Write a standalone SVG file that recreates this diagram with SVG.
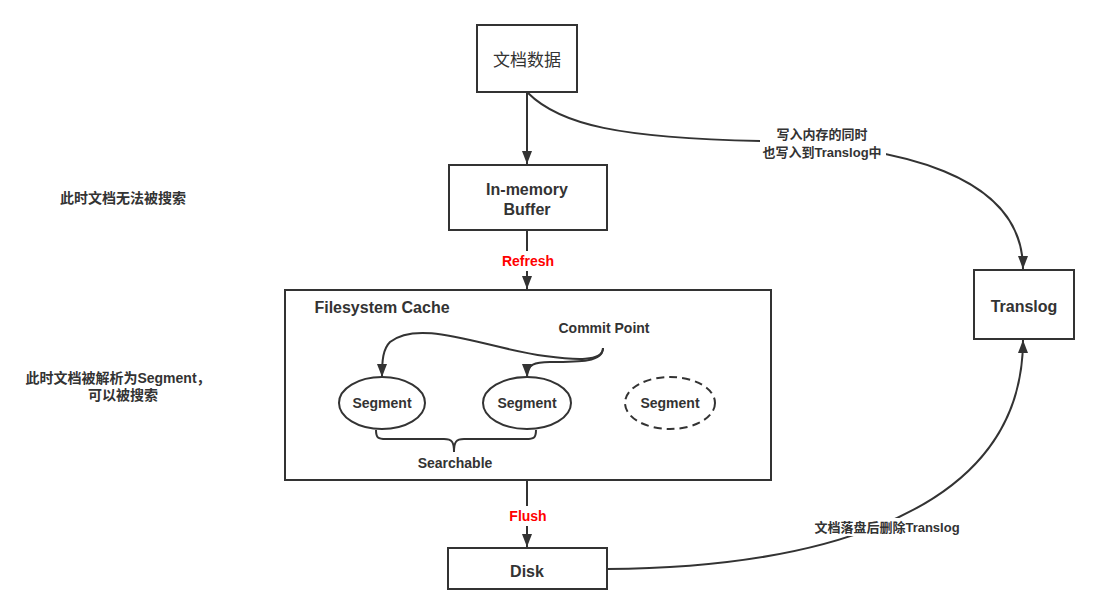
<svg xmlns="http://www.w3.org/2000/svg" width="1098" height="615" viewBox="0 0 1098 615">
<style>
.box{fill:#fff;stroke:#333;stroke-width:2}
.ell{fill:#fff;stroke:#333;stroke-width:2}
.dash{stroke-dasharray:8 5}
.edge{fill:none;stroke:#333;stroke-width:2}
text{font-family:"Liberation Sans","Noto Sans CJK SC",sans-serif;fill:#333;text-anchor:middle;dominant-baseline:central}
.b{font-weight:bold}
.lg{font-size:16px}
.md{font-size:14px}
.sm{font-size:13px}
.red{fill:#ff0000}
.bg{fill:#fff;stroke:none}
</style>
<defs>
<marker id="arr" viewBox="0 0 13 10" refX="13" refY="5" markerWidth="13" markerHeight="10" markerUnits="userSpaceOnUse" orient="auto">
<path d="M0,0 L13,5 L0,10 Z" fill="#333"/>
</marker>
</defs>
<rect width="1098" height="615" fill="#fff"/>
<g id="connectors">
<path class="edge" d="M527 93 L527 164" marker-end="url(#arr)"/>
<path class="edge" d="M527 231 L527 289" marker-end="url(#arr)"/>
<path class="edge" d="M527 481 L527 547" marker-end="url(#arr)"/>
<path class="edge" d="M528 93 C560 125 620 138 760 141 C900 145 1023 175 1023 269" marker-end="url(#arr)"/>
<path class="edge" d="M607 569 C780 568 1023 530 1023 340" marker-end="url(#arr)"/>
<path class="edge" d="M603 348 C603 362 575 360 545 356 C485 348 420 318 390 342 C383 349 382 360 382 377" marker-end="url(#arr)"/>
<path class="edge" d="M603 348 C603 362 580 362 550 362 C535 362 527 364 527 377" marker-end="url(#arr)"/>
<path class="edge" d="M376 430 C376 438 378 439 386 439 L444 439 C452 439 454 442 454 452 C454 442 456 439 464 439 L526 439 C534 439 536 438 536 430"/>
<rect class="bg" x="490" y="251" width="74" height="20"/>
<text class="b md red" x="528" y="261">Refresh</text>
<rect class="bg" x="503" y="506" width="50" height="20"/>
<text class="b md red" x="528" y="516">Flush</text>
<rect class="bg" x="760" y="124" width="126" height="38"/>
<text class="b sm" x="822" y="134">写入内存的同时</text>
<text class="b sm" x="822" y="152">也写入到Translog中</text>
<rect class="bg" x="812" y="518" width="152" height="18"/>
<text class="b sm" x="887" y="527">文档落盘后删除Translog</text>
<text class="b md" x="455" y="463">Searchable</text>
<text class="b md" x="604" y="328">Commit Point</text>
</g>
<g id="doc"><rect class="box" x="477" y="25" width="100" height="67"/><text x="527" y="60" font-size="17">文档数据</text></g>
<g id="buffer"><rect class="box" x="449" y="165" width="158" height="65"/><text class="b lg" x="527" y="189">In-memory</text><text class="b lg" x="527" y="209">Buffer</text></g>
<g id="fscache"><rect class="box" x="285" y="290" width="486" height="190" fill-opacity="0"/><text class="b lg" x="382" y="307">Filesystem Cache</text></g>
<g id="seg1"><ellipse class="ell" cx="382" cy="403" rx="43" ry="26"/><text class="b md" x="382" y="403">Segment</text></g>
<g id="seg2"><ellipse class="ell" cx="527" cy="403" rx="44" ry="26"/><text class="b md" x="527" y="403">Segment</text></g>
<g id="seg3"><ellipse class="ell dash" cx="670" cy="403" rx="45" ry="26"/><text class="b md" x="670" y="403">Segment</text></g>
<g id="disk"><rect class="box" x="448" y="548" width="159" height="41"/><text class="b lg" x="527" y="571">Disk</text></g>
<g id="translog"><rect class="box" x="974" y="270" width="100" height="69"/><text class="b lg" x="1024" y="306">Translog</text></g>
<g id="notes">
<text class="b md" x="123" y="198">此时文档无法被搜索</text>
<text class="b md" x="118" y="378">此时文档被解析为Segment，</text>
<text class="b md" x="123" y="395">可以被搜索</text>
</g>
</svg>
